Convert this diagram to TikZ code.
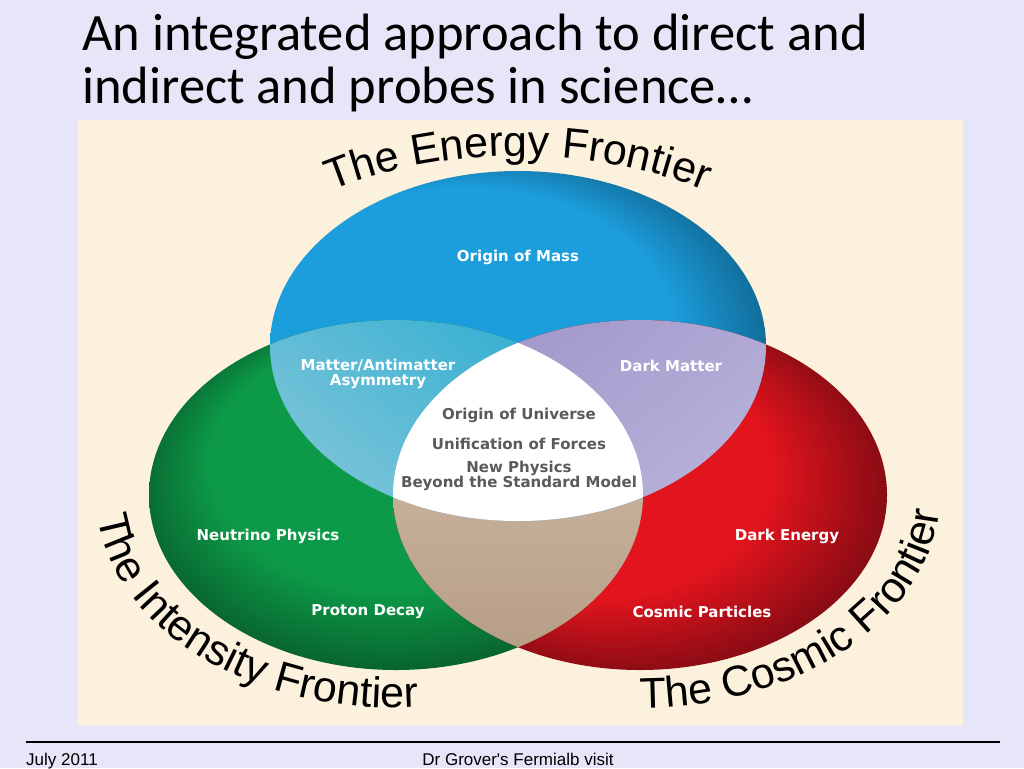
\documentclass[tikz,border=0pt]{standalone}
\usepackage{fontspec}
\setmainfont{Liberation Sans}
\newfontfamily\titlefont{Carlito}
\newfontfamily\labelfont{DejaVu Sans}
\usetikzlibrary{decorations.text}

\definecolor{slidebg}{HTML}{E6E6F8}
\definecolor{panelbg}{HTML}{FBF1DD}
\definecolor{blueL}{HTML}{1C9EDD}
\definecolor{blueD}{HTML}{0B4F70}
\definecolor{greenL}{HTML}{0C9A48}
\definecolor{greenD}{HTML}{075226}
\definecolor{redL}{HTML}{E2141D}
\definecolor{redD}{HTML}{650810}
\definecolor{tealL}{HTML}{A9D1DC}
\definecolor{tealD}{HTML}{36B0D2}
\definecolor{lilacL}{HTML}{C4C2E4}
\definecolor{lilacD}{HTML}{A298CA}
\definecolor{sandL}{HTML}{D6C3AE}
\definecolor{sandD}{HTML}{B59C84}
\definecolor{coregray}{HTML}{5A5A5A}

% the path edge sits at 25bp
\pgfdeclareradialshading{blueball}{\pgfpoint{-17bp}{5bp}}{color(0bp)=(blueL); color(21bp)=(blueL); color(31bp)=(blueD)}
\pgfdeclareradialshading{greenball}{\pgfpoint{-2bp}{12bp}}{color(0bp)=(greenL); color(18bp)=(greenL); color(29bp)=(greenD)}
\pgfdeclareradialshading{redball}{\pgfpoint{-12bp}{8bp}}{color(0bp)=(redL); color(18bp)=(redL); color(30bp)=(redD)}

\newcommand\frontierfont{\fontsize{43}{50}\selectfont}
\def\blueoval{(518,346) ellipse [x radius=248, y radius=175]}
\def\greenoval{(396,495) ellipse [x radius=247, y radius=175]}
\def\redoval{(640,495) ellipse [x radius=247, y radius=175]}

\begin{document}
\begin{tikzpicture}[x=1pt,y=-1pt,
    inlabel/.style={font=\labelfont\bfseries\fontsize{15}{15}\selectfont, text=white, align=center, inner sep=0pt},
    corelabel/.style={inlabel, text=coregray},
    frontier/.style={decorate, decoration={text along path, text={|\frontierfont|#1}}},
    slidetitle/.style={anchor=base west, font=\titlefont\fontsize{52.5}{58}\selectfont, inner sep=0pt},
    footer/.style={font=\fontsize{17}{20}\selectfont, inner sep=0pt}]
\useasboundingbox (0,0) rectangle (1024,768);
\fill[slidebg] (0,0) rectangle (1024,768);
\fill[panelbg] (78,120) rectangle (963,725);

% the three frontiers
\shade[shading=blueball] \blueoval;
\shade[shading=greenball] \greenoval;
\shade[shading=redball] \redoval;
\begin{scope}
  \clip \greenoval;
  \shade[top color=sandL, bottom color=sandD] \redoval;
\end{scope}
\begin{scope}
  \clip \blueoval;
  \shade[top color=tealD, bottom color=tealL, shading angle=-40] \greenoval;
  \shade[top color=lilacD, bottom color=lilacL, shading angle=40] \redoval;
  \clip \greenoval;
  \fill[white] \redoval;
\end{scope}

% labels
\node[inlabel] (mass) at (518,257) {Origin of Mass};
\node[inlabel] (asym) at (378,374) {Matter/Antimatter\\Asymmetry};
\node[inlabel] (dm) at (671,366) {Dark Matter};
\node[corelabel] (univ) at (519,415) {Origin of Universe};
\node[corelabel] (forces) at (519,444) {Unification of Forces};
\node[corelabel] (bsm) at (519,476) {New Physics\\Beyond the Standard Model};
\node[inlabel] (nu) at (268,536) {Neutrino Physics};
\node[inlabel] (pdk) at (368,612) {Proton Decay};
\node[inlabel] (de) at (787,536) {Dark Energy};
\node[inlabel] (cp) at (702,612) {Cosmic Particles};

% curved titles
\path[frontier={The Energy Frontier}, decoration={text align=center}]
  (518,346) ++(-150:325 and 190) arc[start angle=-150, end angle=-30, x radius=325, y radius=190];
\path[frontier={The Intensity Frontier}]
  (396,495) ++(174:300 and 213) arc[start angle=174, end angle=40, x radius=300, y radius=213];
\path[frontier={The Cosmic Frontier}]
  (640,495) ++(90:300 and 213) arc[start angle=90, end angle=-40, x radius=300, y radius=213];

% slide title and footer
\node[slidetitle] (title1) at (82,50) {An integrated approach to direct and};
\node[slidetitle] (title2) at (82,103) {indirect and probes in science…};
\draw[line width=2.5pt] (26,742) -- (1000,742);
\node[footer, anchor=base west] (date) at (26,765) {July 2011};
\node[footer, anchor=base] (visit) at (518,765) {Dr Grover\textquotesingle s Fermialb visit};
\end{tikzpicture}
\end{document}
